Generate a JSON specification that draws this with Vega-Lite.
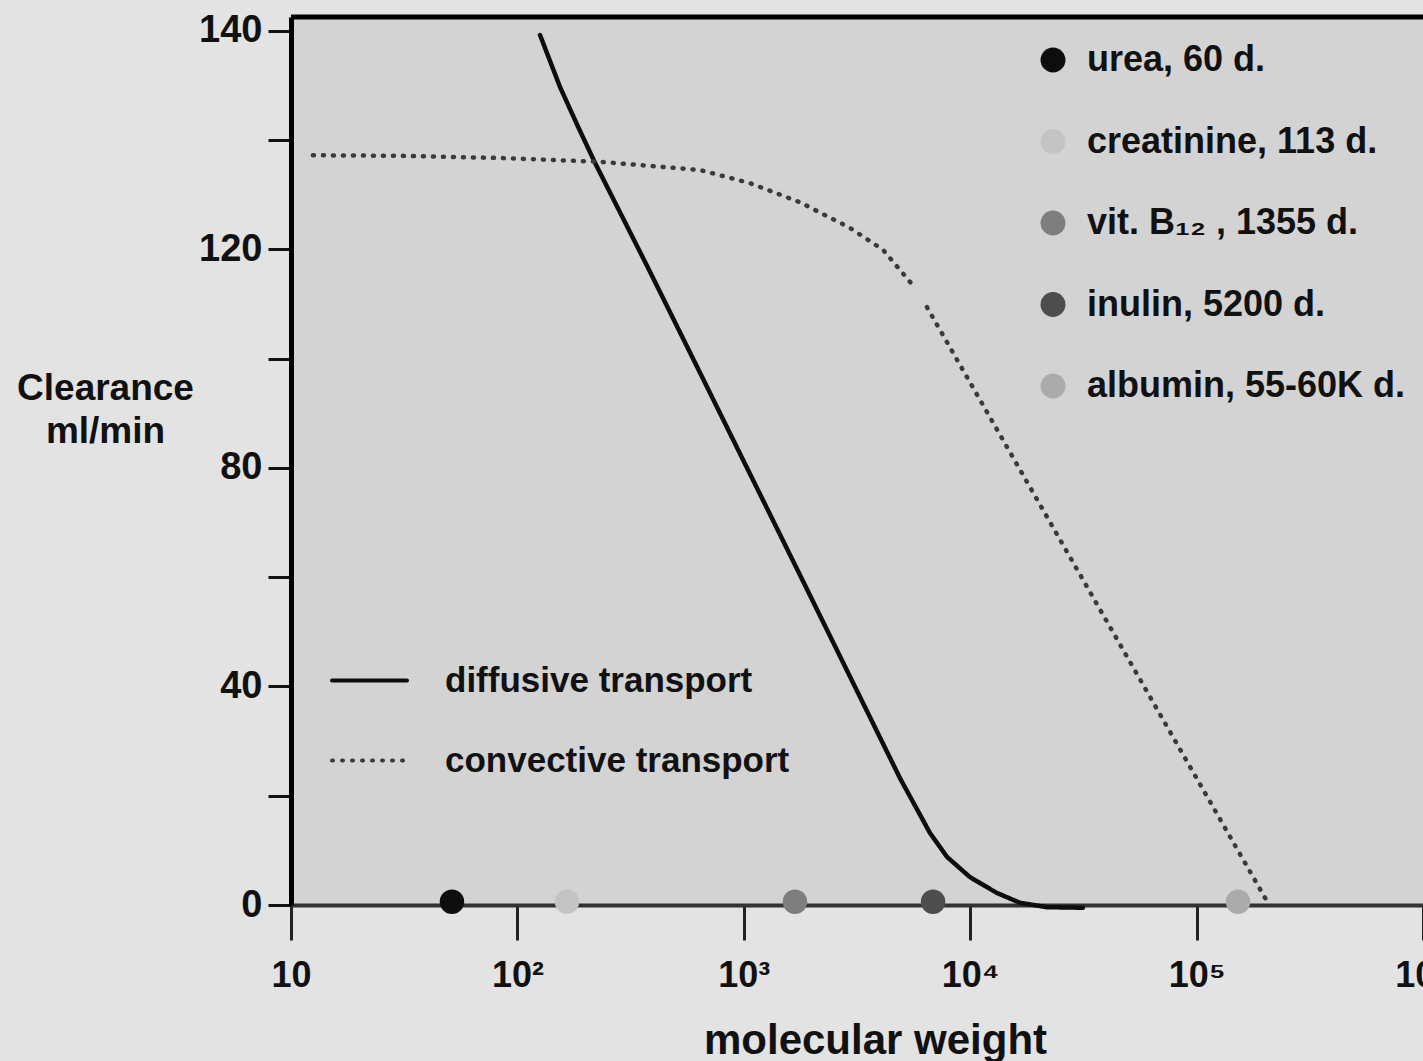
{
  "$schema": "https://vega.github.io/schema/vega-lite/v6.json",
  "width": 1132,
  "height": 888,
  "autosize": {"type": "none"},
  "padding": {"left": 291, "top": 17, "right": 0, "bottom": 156},
  "background": "#e3e3e3",
  "config": {
    "view": {"fill": "#d3d3d3", "stroke": null},
    "font": "Liberation Sans"
  },
  "datasets": {
    "curves": [
      {"transport": "diffusive transport", "seg": "d", "mw": 125.9, "cl": 159.2},
      {"transport": "diffusive transport", "seg": "d", "mw": 154.2, "cl": 149.7},
      {"transport": "diffusive transport", "seg": "d", "mw": 185.4, "cl": 142.4},
      {"transport": "diffusive transport", "seg": "d", "mw": 220.3, "cl": 135.8},
      {"transport": "diffusive transport", "seg": "d", "mw": 377.6, "cl": 116.6},
      {"transport": "diffusive transport", "seg": "d", "mw": 640.6, "cl": 97.4},
      {"transport": "diffusive transport", "seg": "d", "mw": 1770, "cl": 60.4},
      {"transport": "diffusive transport", "seg": "d", "mw": 4898, "cl": 23.2},
      {"transport": "diffusive transport", "seg": "d", "mw": 6637, "cl": 13.2},
      {"transport": "diffusive transport", "seg": "d", "mw": 7899, "cl": 8.8},
      {"transport": "diffusive transport", "seg": "d", "mw": 9977, "cl": 5.1},
      {"transport": "diffusive transport", "seg": "d", "mw": 13130, "cl": 2.2},
      {"transport": "diffusive transport", "seg": "d", "mw": 16600, "cl": 0.4},
      {"transport": "diffusive transport", "seg": "d", "mw": 21830, "cl": -0.4},
      {"transport": "diffusive transport", "seg": "d", "mw": 31480, "cl": -0.5},
      {"transport": "convective transport", "seg": "c1", "mw": 12.5, "cl": 137.2},
      {"transport": "convective transport", "seg": "c1", "mw": 30.3, "cl": 137.1},
      {"transport": "convective transport", "seg": "c1", "mw": 83.8, "cl": 136.7},
      {"transport": "convective transport", "seg": "c1", "mw": 231.7, "cl": 136.0},
      {"transport": "convective transport", "seg": "c1", "mw": 640.6, "cl": 134.5},
      {"transport": "convective transport", "seg": "c1", "mw": 1064, "cl": 132.1},
      {"transport": "convective transport", "seg": "c1", "mw": 1770, "cl": 128.6},
      {"transport": "convective transport", "seg": "c1", "mw": 2944, "cl": 123.9},
      {"transport": "convective transport", "seg": "c1", "mw": 4121, "cl": 119.9},
      {"transport": "convective transport", "seg": "c1", "mw": 5534, "cl": 113.6},
      {"transport": "convective transport", "seg": "c2", "mw": 6442, "cl": 109.4},
      {"transport": "convective transport", "seg": "c2", "mw": 206500, "cl": 0.4}
    ],
    "compounds": [
      {"compound": "urea, 60 d.", "mw": 51.4, "cl": 0.6},
      {"compound": "creatinine, 113 d.", "mw": 165.6, "cl": 0.6},
      {"compound": "vit. B₁₂ , 1355 d.", "mw": 1683, "cl": 0.6},
      {"compound": "inulin, 5200 d.", "mw": 6855, "cl": 0.6},
      {"compound": "albumin, 55-60K d.", "mw": 152400, "cl": 0.6}
    ]
  },
  "layer": [
    {
      "data": {"name": "curves"},
      "mark": {"type": "line", "strokeWidth": 4.5, "strokeCap": "round", "strokeJoin": "round"},
      "encoding": {
        "x": {
          "field": "mw", "type": "quantitative",
          "scale": {"type": "log", "domain": [10, 1000000], "nice": false},
          "axis": {
            "values": [10, 100, 1000, 10000, 100000, 1000000],
            "labelExpr": "datum.value == 10 ? '10' : datum.value == 100 ? '10²' : datum.value == 1000 ? '10³' : datum.value == 10000 ? '10⁴' : datum.value == 100000 ? '10⁵' : '10⁶'",
            "labelFlush": false,
            "labelOverlap": false,
            "grid": false,
            "tickSize": 35, "tickWidth": 3, "tickColor": "#222",
            "domainColor": "#333", "domainWidth": 4,
            "labelFontSize": 36, "labelFontWeight": "bold", "labelColor": "#111", "labelPadding": 18,
            "title": "molecular weight",
            "titleFontSize": 42, "titleFontWeight": "bold", "titleColor": "#111",
            "titleX": 584, "titleY": 148, "titleBaseline": "alphabetic", "titleAlign": "center"
          }
        },
        "y": {
          "field": "cl", "type": "quantitative",
          "scale": {"domain": [0, 162.5], "nice": false, "zero": false},
          "axis": {
            "values": [0, 20, 40, 60, 80, 100, 120, 140, 160],
            "labelExpr": "datum.value == 160 ? '140' : (datum.value % 40 == 0 ? datum.label : '')",
            "labelOverlap": false,
            "grid": false,
            "domainColor": "#000", "domainWidth": 5,
            "tickColor": "#111", "tickWidth": 3, "tickSize": 23,
            "labelFontSize": 38, "labelFontWeight": "bold", "labelColor": "#111", "labelPadding": 6,
            "title": ["Clearance", "ml/min"],
            "titleAngle": 0, "titleFontSize": 37, "titleLineHeight": 43, "titleFontWeight": "bold", "titleColor": "#111",
            "titleAlign": "center", "titleBaseline": "top", "titleX": -186, "titleY": 353
          }
        },
        "detail": {"field": "seg"},
        "stroke": {
          "field": "transport", "type": "nominal",
          "scale": {"domain": ["diffusive transport", "convective transport"], "range": ["#0d0d0d", "#3a3a3a"]},
          "legend": {
            "orient": "none", "legendX": 39, "legendY": 624, "title": null,
            "symbolType": "stroke", "symbolSize": 5625, "symbolStrokeWidth": 4,
            "labelFontSize": 35, "labelFontWeight": "bold", "labelColor": "#111",
            "labelOffset": 36, "rowPadding": 22, "labelLimit": 600,
            "encode": {"symbols": {"update": {"strokeCap": {"value": "round"}}}}
          }
        },
        "strokeDash": {
          "field": "transport", "type": "nominal",
          "scale": {"domain": ["diffusive transport", "convective transport"], "range": [[1, 0], [1, 9]]},
          "legend": {
            "orient": "none", "legendX": 39, "legendY": 624, "title": null,
            "symbolType": "stroke", "symbolSize": 5625, "symbolStrokeWidth": 4,
            "labelFontSize": 35, "labelFontWeight": "bold", "labelColor": "#111",
            "labelOffset": 36, "rowPadding": 22, "labelLimit": 600,
            "encode": {"symbols": {"update": {"strokeCap": {"value": "round"}}}}
          }
        }
      }
    },
    {
      "data": {"name": "compounds"},
      "mark": {"type": "circle", "size": 600, "opacity": 1},
      "encoding": {
        "x": {"field": "mw", "type": "quantitative"},
        "y": {"field": "cl", "type": "quantitative"},
        "fill": {
          "field": "compound", "type": "nominal",
          "scale": {
            "domain": ["urea, 60 d.", "creatinine, 113 d.", "vit. B₁₂ , 1355 d.", "inulin, 5200 d.", "albumin, 55-60K d."],
            "range": ["#0d0d0d", "#c4c4c4", "#7e7e7e", "#4d4d4d", "#ababab"]
          },
          "legend": {
            "orient": "none", "legendX": 744, "legendY": 25, "title": null,
            "symbolType": "circle", "symbolSize": 620, "symbolStrokeWidth": 0, "symbolOpacity": 1,
            "labelFontSize": 36, "labelFontWeight": "bold", "labelColor": "#111",
            "labelOffset": 16, "rowPadding": 45.5, "labelLimit": 600
          }
        }
      }
    },
    {
      "data": {"values": [{}]},
      "mark": {"type": "rule", "color": "#000", "strokeWidth": 5},
      "encoding": {"y": {"datum": 162.5, "type": "quantitative"}}
    }
  ]
}
